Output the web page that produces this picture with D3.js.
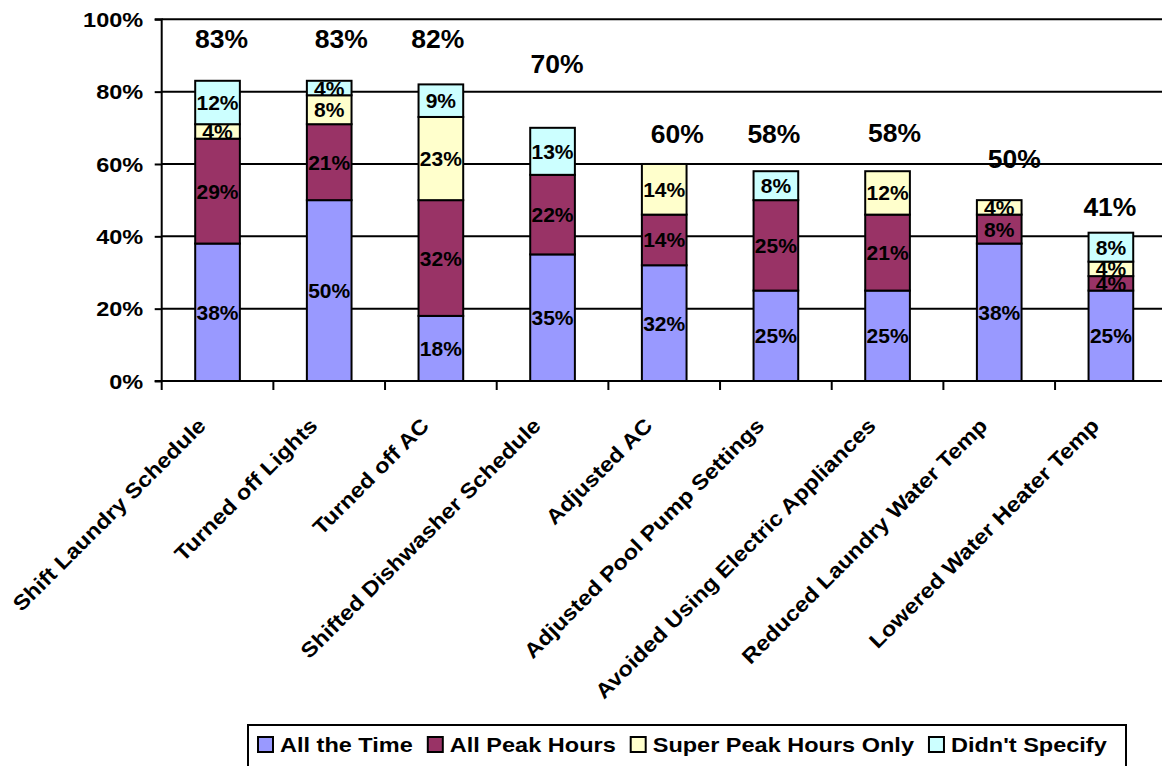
<!DOCTYPE html>
<html>
<head>
<meta charset="utf-8">
<script src="https://cdn.jsdelivr.net/npm/d3@7"></script>
<style>
  html, body { margin: 0; padding: 0; background: #fff; }
  svg { display: block; }
  text { font-family: "Liberation Sans", Arial, sans-serif; font-weight: bold; fill: #000; }
</style>
</head>
<body>
<script>
// ---------------- data ----------------
const categories = [
  "Shift Laundry Schedule", "Turned off Lights", "Turned off AC",
  "Shifted Dishwasher Schedule", "Adjusted AC", "Adjusted Pool Pump Settings",
  "Avoided Using Electric Appliances", "Reduced Laundry Water Temp", "Lowered Water Heater Temp"
];
const seriesNames = ["All the Time", "All Peak Hours", "Super Peak Hours Only", "Didn't Specify"];
const allTheTime    = [38, 50, 18, 35, 32, 25, 25, 38, 25];
const allPeakHours  = [29, 21, 32, 22, 14, 25, 21,  8,  4];
const superPeakOnly = [ 4,  8, 23,  0, 14,  0, 12,  4,  4];
const didntSpecify  = [12,  4,  9, 13,  0,  8,  0,  0,  8];
const totalLabels   = [83, 83, 82, 70, 60, 58, 58, 50, 41];
const yTicks        = [0, 20, 40, 60, 80, 100];

// ---------------- layout (not data) ----------------
const W = 1162, H = 766;
const colors = ["#9999FF", "#993366", "#FFFFCC", "#CCFFFF"];
// level (in axis units) where each total label sits, and small horizontal nudges (px)
const totalLabelLevel = [94.5, 94.5, 94.5, 87.6, 68.2, 68.2, 68.4, 61.3, 47.9];
const totalLabelNudge = [4, 12, -3, 4.5, 13, -2, 7, 15, -1];

const plotLeft = 161.7, slot = 111.67, plotTop = 19.3, plotBottom = 381;

const svg = d3.select("body").append("svg").attr("width", W).attr("height", H);
svg.append("rect").attr("width", W).attr("height", H).attr("fill", "#fff");

const x = d3.scaleBand().domain(categories)
  .range([plotLeft, plotLeft + slot * categories.length])
  .paddingInner(0.6).paddingOuter(0.3);
const y = d3.scaleLinear().domain([0, 100]).range([plotBottom, plotTop]);

// gridlines
svg.append("g").selectAll("line").data(yTicks.filter(d => d > 0)).join("line")
  .attr("x1", plotLeft).attr("x2", W)
  .attr("y1", d => y(d)).attr("y2", d => y(d))
  .attr("stroke", "#000").attr("stroke-width", 2);

// stacked bars
const rows = categories.map((c, i) => ({
  cat: c,
  [seriesNames[0]]: allTheTime[i],
  [seriesNames[1]]: allPeakHours[i],
  [seriesNames[2]]: superPeakOnly[i],
  [seriesNames[3]]: didntSpecify[i]
}));
const stacked = d3.stack().keys(seriesNames)(rows);

const layers = svg.append("g").selectAll("g").data(stacked).join("g")
  .attr("fill", (d, i) => colors[i]);
layers.selectAll("rect").data(d => d.filter(s => s[1] - s[0] > 0)).join("rect")
  .attr("x", d => x(d.data.cat))
  .attr("width", x.bandwidth())
  .attr("y", d => y(d[1]))
  .attr("height", d => y(d[0]) - y(d[1]))
  .attr("stroke", "#000").attr("stroke-width", 2);

// segment labels
const segLabels = svg.append("g");
stacked.forEach(layer => {
  layer.forEach(s => {
    const v = s[1] - s[0];
    if (v <= 0) return;
    segLabels.append("text")
      .attr("x", x(s.data.cat) + x.bandwidth() / 2)
      .attr("y", (y(s[0]) + y(s[1])) / 2)
      .attr("text-anchor", "middle")
      .attr("dominant-baseline", "central")
      .style("font-size", "21px")
      .text(v + "%");
  });
});

// total labels
svg.append("g").selectAll("g").data(categories).join("g")
  .attr("transform", (c, i) => `translate(${x(c) + x.bandwidth() / 2 + totalLabelNudge[i]},${y(totalLabelLevel[i])}) scale(1.06,1)`)
  .append("text")
  .attr("text-anchor", "middle").attr("dominant-baseline", "central")
  .style("font-size", "25px")
  .text((c, i) => totalLabels[i] + "%");

// y axis
const yAxis = d3.axisLeft(y).tickValues(yTicks).tickFormat(d => d + "%").tickSize(7).tickPadding(0);
const ya = svg.append("g").attr("transform", `translate(${plotLeft},0)`).call(yAxis);
ya.select(".domain").attr("stroke", "#000").attr("stroke-width", 2).attr("d", `M-7,${plotTop}H0V${plotBottom}H-7`);
ya.selectAll(".tick line").attr("stroke", "#000").attr("stroke-width", 2);
ya.selectAll(".tick text").remove();
ya.selectAll(".tick").append("g")
  .attr("transform", "translate(-18.5,0) scale(1.12,1)")
  .append("text").attr("text-anchor", "end").attr("dominant-baseline", "central")
  .style("font-size", "21px").text(d => d + "%");

// x axis line and ticks at slot boundaries
const step = x.step();
const bounds = categories.map(c => x(c) - (step - x.bandwidth()) / 2);
bounds.push(bounds[bounds.length - 1] + step);
svg.append("line").attr("x1", plotLeft).attr("x2", W).attr("y1", plotBottom).attr("y2", plotBottom)
  .attr("stroke", "#000").attr("stroke-width", 2);
svg.append("g").selectAll("line").data(bounds).join("line")
  .attr("x1", d => d).attr("x2", d => d)
  .attr("y1", plotBottom).attr("y2", plotBottom + 9)
  .attr("stroke", "#000").attr("stroke-width", 2);

// category labels
svg.append("g").selectAll("g").data(categories).join("g")
  .attr("transform", c => `translate(${x(c) + x.bandwidth() / 2 - 10.5},427) rotate(-45) scale(1.12,1)`)
  .append("text").attr("text-anchor", "end")
  .style("font-size", "21px").text(c => c);

// legend
const lg = svg.append("g");
lg.append("rect").attr("x", 248).attr("y", 725).attr("width", 878).attr("height", 70)
  .attr("fill", "#fff").attr("stroke", "#000").attr("stroke-width", 2);
let cursor = 258;
seriesNames.forEach((name, i) => {
  lg.append("rect").attr("x", cursor).attr("y", 737).attr("width", 15).attr("height", 15)
    .attr("fill", colors[i]).attr("stroke", "#000").attr("stroke-width", 2);
  const g = lg.append("g").attr("transform", `translate(${cursor + 22},752) scale(1.12,1)`);
  const t = g.append("text").style("font-size", "21px").text(name);
  const w = t.node().getComputedTextLength() * 1.12;
  cursor = cursor + 22 + w + 15;
});
</script>
</body>
</html>
